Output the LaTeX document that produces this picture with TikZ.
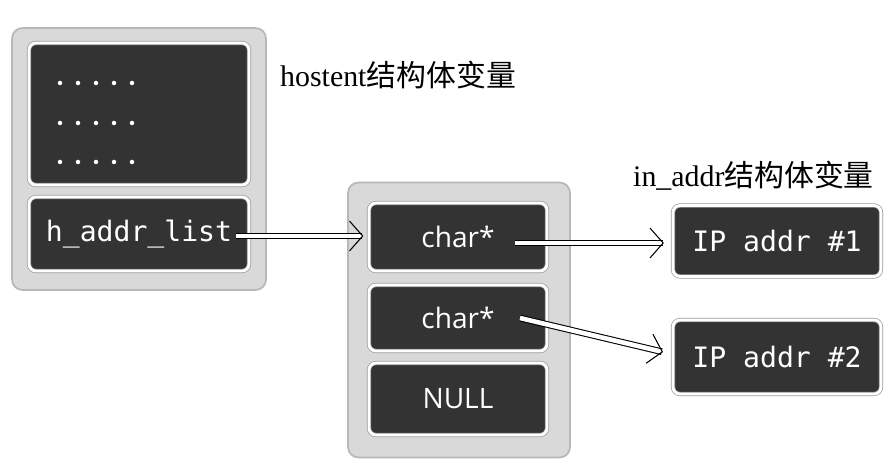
\documentclass[tikz,border=0pt]{standalone}
\usepackage{fontspec}
\setmainfont{Liberation Serif}
\newfontfamily\cjk{Noto Sans CJK SC}
\newfontfamily\codefont{DejaVu Sans Mono}
\newfontfamily\ptrfont{Open Sans}
\usetikzlibrary{arrows.meta}

\tikzset{
  holder/.style={rounded corners=6pt, fill=black!15, draw=black!28, line width=1pt},
  cell/.style={rounded corners=4pt, fill=black!80, draw=black!40, double=white,
    double distance=1.6pt, text=white},
  code/.style={cell, font=\codefont\fontsize{16}{18}\selectfont},
  ptrtxt/.style={cell, font=\ptrfont\fontsize{16}{18}\selectfont},
  ptr/.style={double, double distance=2.6pt, line width=0.6pt, -{Straight Barb[length=7.5pt, width=17pt]}},
  caption/.style={font=\fontsize{17}{20}\selectfont},
}

\begin{document}
\begin{tikzpicture}
    \useasboundingbox (0,0) rectangle (17.9,-9.48);
    % hostent
    \node[holder, minimum width=5.08cm, minimum height=5.24cm] (hostent) at (2.78,-3.18) {};
    \node[cell, minimum width=4.4cm, minimum height=2.84cm] (etc) at (2.78,-2.28) {};
    \node[code, minimum width=4.4cm, minimum height=1.48cm] (hlist) at (2.78,-4.68) {h\_addr\_list};
    \foreach \r in {1.66,2.46,3.24}
      \foreach \c in {1.2,1.56,1.92,2.28,2.64}
        \fill[white] (\c,-\r) circle (0.045);
    \node[caption, anchor=west] (hlabel) at (5.48,-1.5) {hostent{\cjk 结构体变量}};
    % h_addr_list
    \node[holder, minimum width=4.44cm, minimum height=5.5cm] (list) at (9.18,-6.4) {};
    \node[ptrtxt, minimum width=3.56cm, minimum height=1.36cm] (char1) at (9.16,-4.74) {char*};
    \node[ptrtxt, minimum width=3.56cm, minimum height=1.32cm] (char2) at (9.16,-6.36) {char*};
    \node[ptrtxt, minimum width=3.56cm, minimum height=1.44cm] (null) at (9.16,-7.98) {NULL};
    % in_addr
    \node[caption, anchor=west] (ilabel) at (12.54,-3.52) {in\_addr{\cjk 结构体变量}};
    \node[code, minimum width=4.16cm, minimum height=1.42cm] (ip1) at (15.54,-4.82) {IP addr \#1};
    \node[code, minimum width=4.16cm, minimum height=1.48cm] (ip2) at (15.54,-7.14) {IP addr \#2};
    \coordinate (from0) at (4.72,-4.72);
    \coordinate (from1) at (10.3,-4.86);
    \coordinate (from2) at (10.4,-6.36);
    \coordinate (to2) at (13.26,-7.04);
    \draw[ptr, shorten >=3pt] (from0) -- (from0 -| char1.west);
    \draw[ptr, shorten >=5pt] (from1) -- (from1 -| ip1.west);
    \draw[ptr] (from2) -- (to2);
\end{tikzpicture}
\end{document}
